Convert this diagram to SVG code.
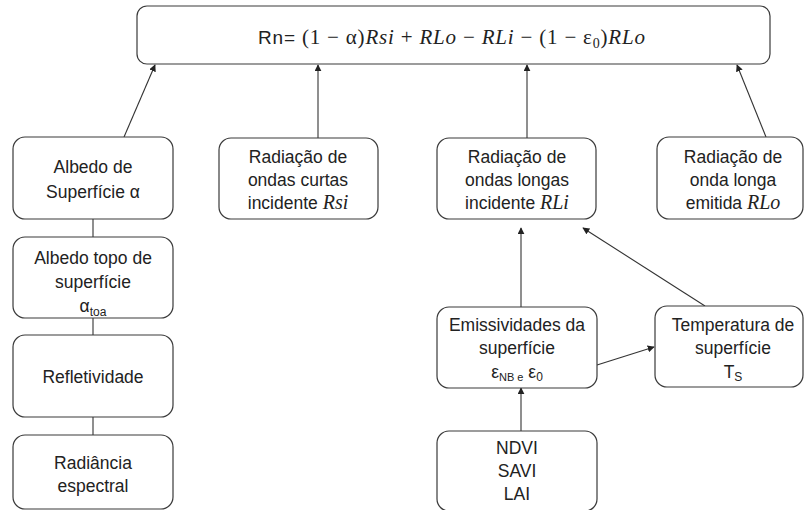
<svg xmlns="http://www.w3.org/2000/svg" width="805" height="510" viewBox="0 0 805 510">
<style>
.box{fill:#fff;stroke:#3a3a3a;stroke-width:1.2}
.t{font-family:"Liberation Sans",Arial,sans-serif;font-size:17.5px;fill:#222;text-anchor:middle}
.m{font-family:"Liberation Serif","Times New Roman",serif;font-style:italic;font-size:20px}
.f{font-family:"Liberation Serif","Times New Roman",serif;font-size:21px;fill:#222}
.c line{stroke:#333;stroke-width:1.1}
.arr{marker-end:url(#ah)}
</style>
<defs>
<marker id="ah" viewBox="0 0 10 10" refX="9" refY="5" markerWidth="7" markerHeight="7" markerUnits="userSpaceOnUse" orient="auto">
<path d="M0,0 L10,5 L0,10 z" fill="#222"/>
</marker>
</defs>
<rect width="805" height="510" fill="#fff"/>
<g class="c" id="connectors">
<line class="arr" x1="124" y1="137" x2="155" y2="65"/>
<line class="arr" x1="318" y1="138" x2="318" y2="65"/>
<line class="arr" x1="527" y1="138" x2="527" y2="65"/>
<line class="arr" x1="766" y1="137" x2="737" y2="65"/>
<line x1="93" y1="219" x2="93" y2="237"/>
<line x1="93" y1="318" x2="93" y2="335"/>
<line x1="93" y1="417" x2="93" y2="435"/>
<line class="arr" x1="521" y1="307" x2="521" y2="228"/>
<line class="arr" x1="705" y1="306" x2="583" y2="228"/>
<line class="arr" x1="597" y1="365" x2="654" y2="347"/>
<line class="arr" x1="521" y1="455" x2="521" y2="388"/>
</g>
<g id="rn">
<rect class="box" x="137" y="6" width="633" height="58" rx="10"/>
<text class="f" x="258" y="44" textLength="387" lengthAdjust="spacing"><tspan font-family="Liberation Sans, sans-serif" font-size="19">Rn=</tspan> (1 − α)<tspan font-style="italic">Rsi</tspan> + <tspan font-style="italic">RLo</tspan> − <tspan font-style="italic">RLi</tspan> − (1 − ε<tspan dy="4" font-size="14">0</tspan><tspan dy="-4">)</tspan><tspan font-style="italic">RLo</tspan></text>
</g>
<g id="albedo">
<rect class="box" x="13" y="137" width="160" height="82" rx="12"/>
<text class="t" x="93" y="173">Albedo de</text>
<text class="t" x="93" y="198">Superfície α</text>
</g>
<g id="albedo-toa">
<rect class="box" x="13" y="237" width="160" height="81" rx="12"/>
<text class="t" x="93" y="264">Albedo topo de</text>
<text class="t" x="93" y="288">superfície</text>
<text class="t" x="93" y="312">α<tspan font-size="12" dy="4">toa</tspan></text>
</g>
<g id="refletividade">
<rect class="box" x="13" y="335" width="160" height="82" rx="12"/>
<text class="t" x="93" y="383">Refletividade</text>
</g>
<g id="radiancia">
<rect class="box" x="13" y="435" width="160" height="74" rx="12"/>
<text class="t" x="93" y="469">Radiância</text>
<text class="t" x="93" y="492">espectral</text>
</g>
<g id="rsi">
<rect class="box" x="219" y="138" width="159" height="81" rx="12"/>
<text class="t" x="298" y="163">Radiação de</text>
<text class="t" x="298" y="186">ondas curtas</text>
<text class="t" x="298" y="209">incidente <tspan class="m">Rsi</tspan></text>
</g>
<g id="rli">
<rect class="box" x="437" y="138" width="159" height="81" rx="12"/>
<text class="t" x="517" y="163">Radiação de</text>
<text class="t" x="517" y="186">ondas longas</text>
<text class="t" x="517" y="209">incidente <tspan class="m">RLi</tspan></text>
</g>
<g id="rlo">
<rect class="box" x="657" y="137" width="146" height="82" rx="12"/>
<text class="t" x="733" y="163">Radiação de</text>
<text class="t" x="733" y="186">onda longa</text>
<text class="t" x="733" y="209">emitida <tspan class="m">RLo</tspan></text>
</g>
<g id="emissividades">
<rect class="box" x="437" y="307" width="160" height="81" rx="12"/>
<text class="t" x="517" y="331">Emissividades da</text>
<text class="t" x="517" y="354">superfície</text>
<text class="t" x="517" y="378">ε<tspan font-size="11" dy="3">NB e</tspan><tspan dy="-3"> ε</tspan><tspan font-size="12" dy="3">0</tspan></text>
</g>
<g id="temperatura">
<rect class="box" x="655" y="306" width="148" height="81" rx="12"/>
<text class="t" x="733" y="331">Temperatura de</text>
<text class="t" x="733" y="354">superfície</text>
<text class="t" x="733" y="378">T<tspan font-size="12" dy="3">S</tspan></text>
</g>
<g id="indices">
<rect class="box" x="437" y="431" width="160" height="80" rx="12"/>
<text class="t" x="517" y="454">NDVI</text>
<text class="t" x="517" y="477">SAVI</text>
<text class="t" x="517" y="500">LAI</text>
</g>
</svg>
